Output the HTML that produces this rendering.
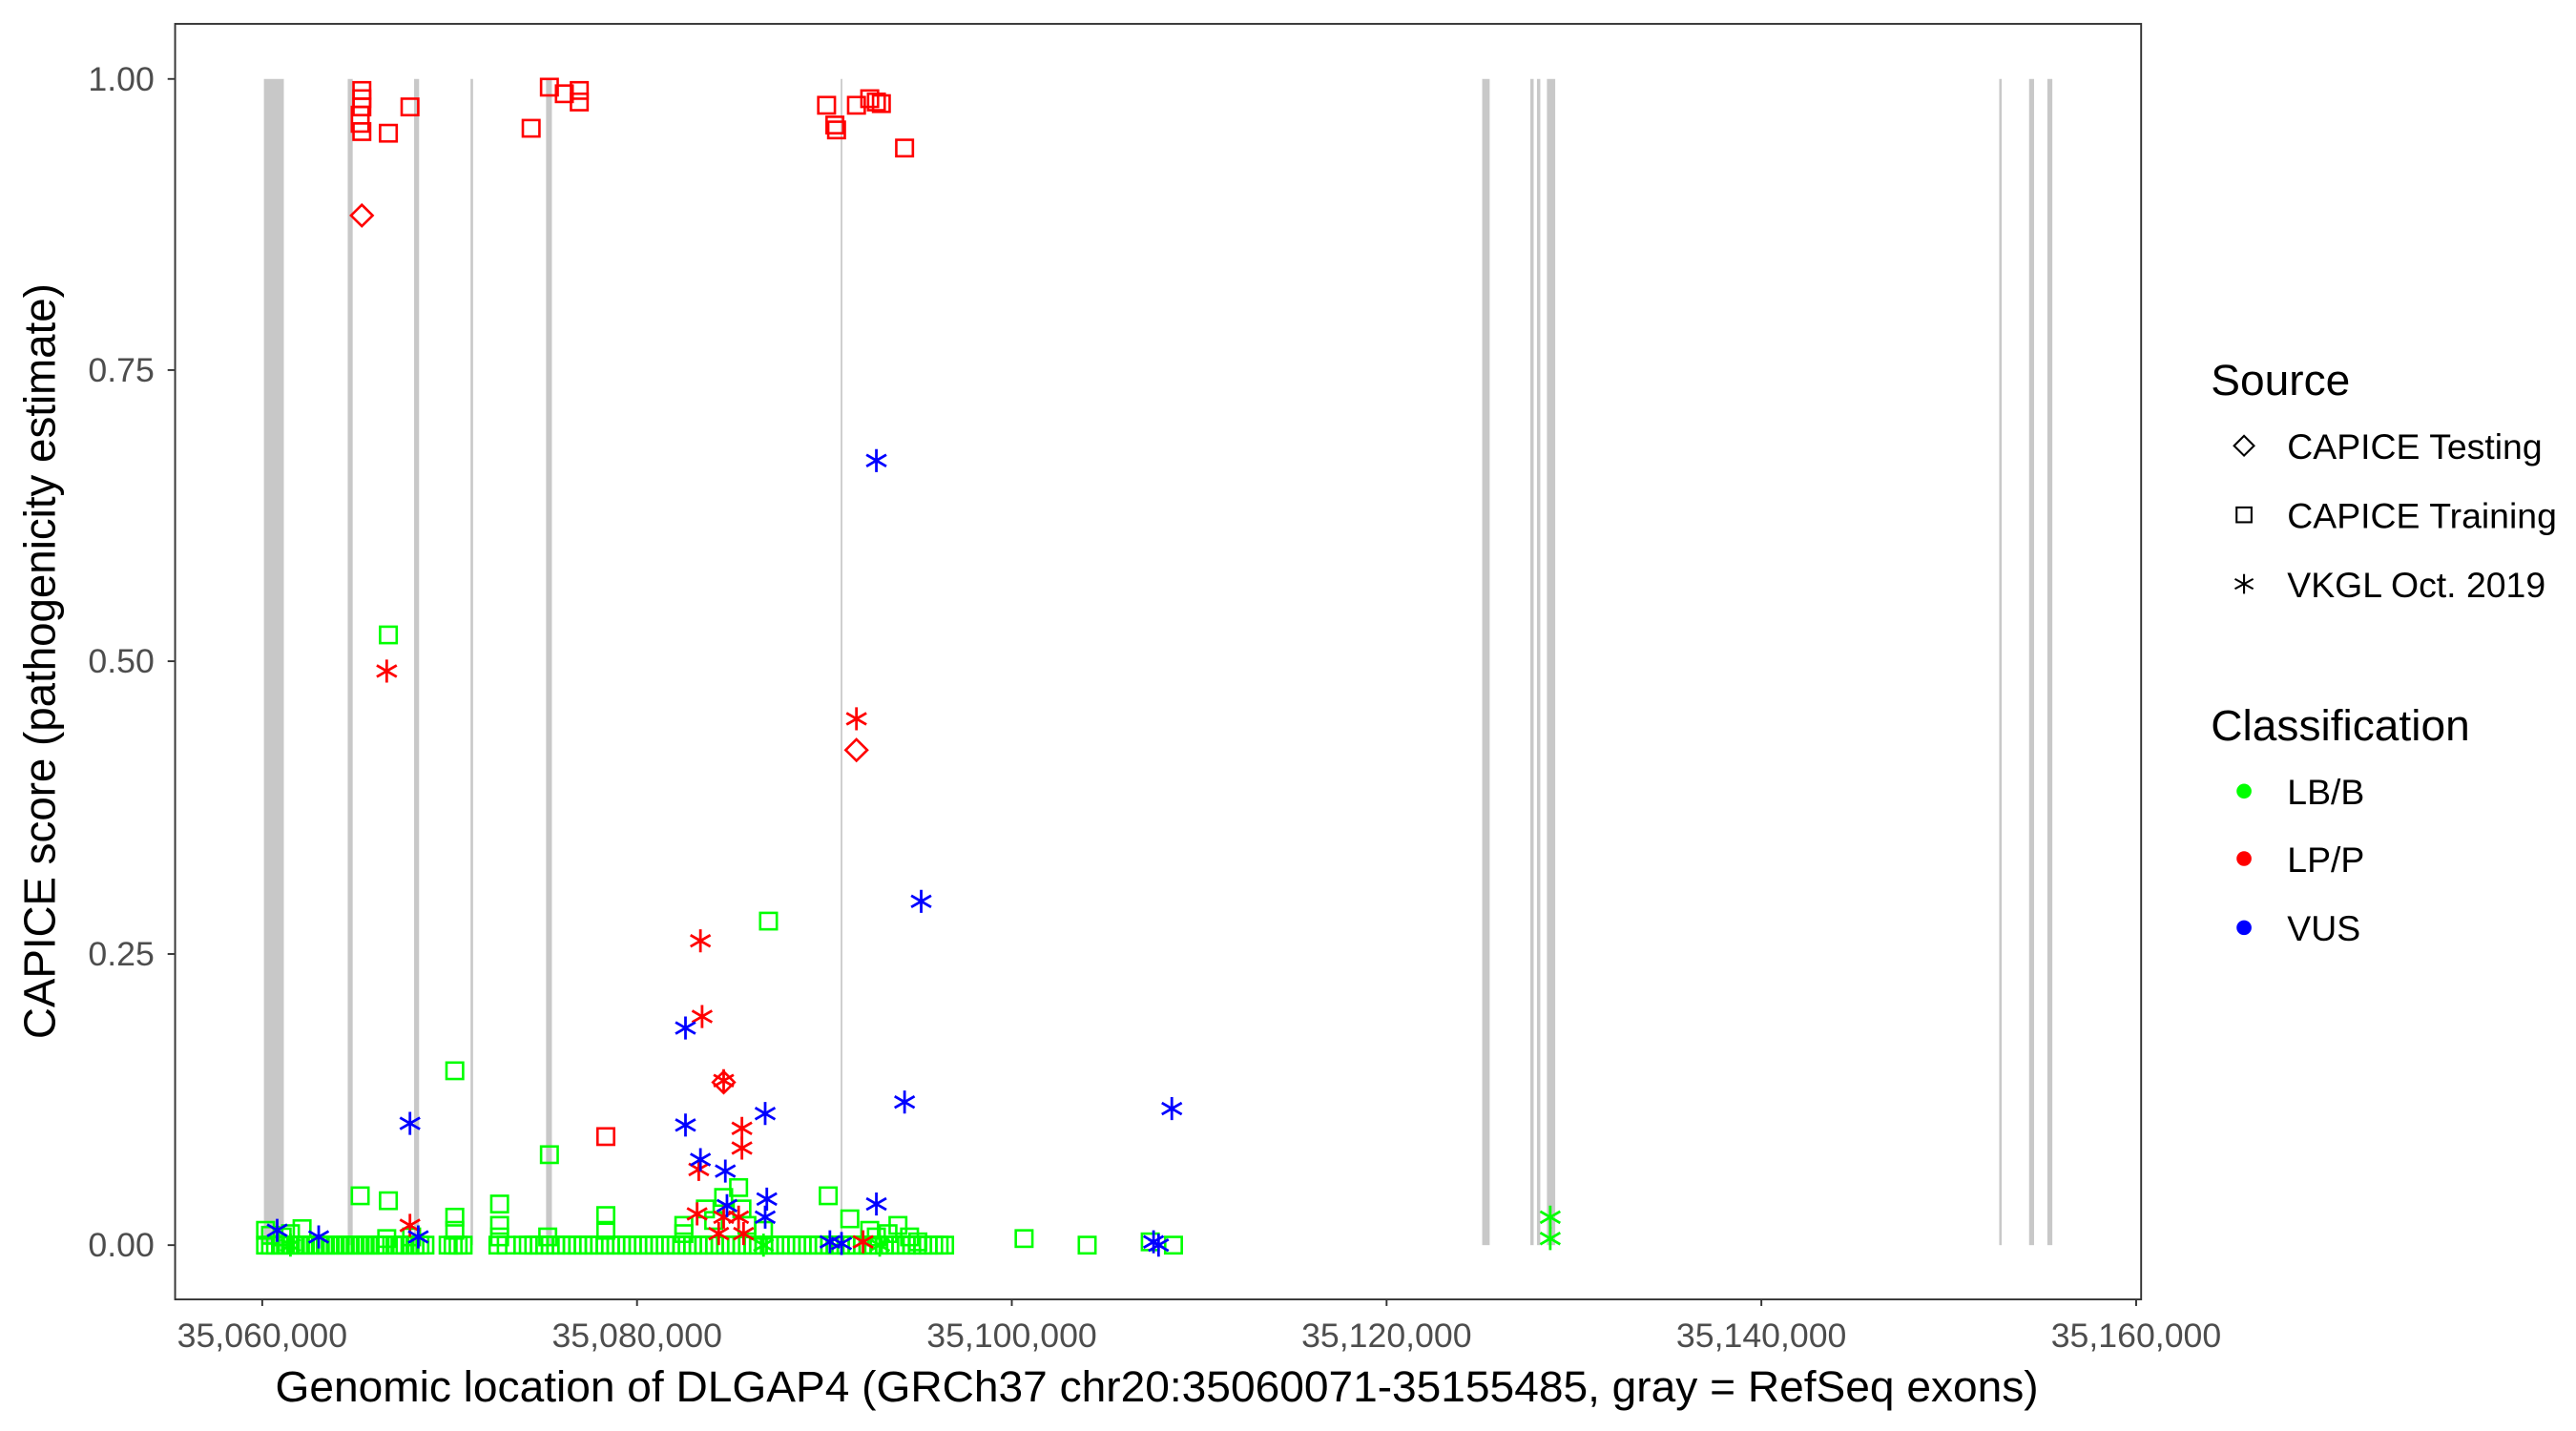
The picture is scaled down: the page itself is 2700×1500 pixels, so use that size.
<!DOCTYPE html>
<html><head><meta charset="utf-8"><style>html,body{margin:0;padding:0;background:#fff}svg{display:block}</style></head>
<body>
<svg id="s" width="2700" height="1500" viewBox="0 0 1552 870" preserveAspectRatio="none" xmlns="http://www.w3.org/2000/svg" font-family="Liberation Sans, sans-serif">
<rect x="0" y="0" width="1552" height="870" fill="#fff"/>
<g id="bands" fill="#c8c8c8"></g>
<g id="pts" fill="none" stroke-width="1.5"></g>
<rect x="105.5" y="14.5" width="1184.5" height="775.5" fill="none" stroke="#333" stroke-width="1.1"/>
<g stroke="#333" stroke-width="1.1">
<line x1="101" y1="48" x2="105" y2="48"/><line x1="101" y1="225" x2="105" y2="225"/><line x1="101" y1="402" x2="105" y2="402"/><line x1="101" y1="580" x2="105" y2="580"/><line x1="101" y1="757" x2="105" y2="757"/>
<line x1="158" y1="790" x2="158" y2="794"/><line x1="383.8" y1="790" x2="383.8" y2="794"/><line x1="609.6" y1="790" x2="609.6" y2="794"/><line x1="835.4" y1="790" x2="835.4" y2="794"/><line x1="1061.2" y1="790" x2="1061.2" y2="794"/><line x1="1287" y1="790" x2="1287" y2="794"/>
</g>
<g fill="#4d4d4d" font-size="20.5" text-anchor="end">
<text x="93" y="55">1.00</text><text x="93" y="232">0.75</text><text x="93" y="409">0.50</text><text x="93" y="587">0.25</text><text x="93" y="764">0.00</text>
</g>
<g fill="#4d4d4d" font-size="20.5" text-anchor="middle">
<text x="158" y="819">35,060,000</text><text x="383.8" y="819">35,080,000</text><text x="609.6" y="819">35,100,000</text><text x="835.4" y="819">35,120,000</text><text x="1061.2" y="819">35,140,000</text><text x="1287" y="819">35,160,000</text>
</g>
<text x="697" y="852" font-size="26.5" text-anchor="middle" fill="#000">Genomic location of DLGAP4 (GRCh37 chr20:35060071-35155485, gray = RefSeq exons)</text>
<text transform="translate(33,402) rotate(-90)" font-size="26.5" text-anchor="middle" fill="#000">CAPICE score (pathogenicity estimate)</text>
<text x="1332" y="240" font-size="26.5" fill="#000">Source</text>
<path d="M1352 265 L1358 271 L1352 277 L1346 271 Z" fill="none" stroke="#000" stroke-width="1.2"/>
<text x="1378" y="279" font-size="21.5">CAPICE Testing</text>
<rect x="1347.5" y="308.5" width="9" height="9" fill="none" stroke="#000" stroke-width="1.2"/>
<text x="1378" y="321" font-size="21.5">CAPICE Training</text>
<g stroke="#000" stroke-width="1.2"><line x1="1352" y1="349" x2="1352" y2="361"/><line x1="1346.5" y1="352" x2="1357.5" y2="358"/><line x1="1346.5" y1="358" x2="1357.5" y2="352"/></g>
<text x="1378" y="363" font-size="21.5">VKGL Oct. 2019</text>
<text x="1332" y="450" font-size="26.5" fill="#000">Classification</text>
<circle cx="1352" cy="481" r="4.5" fill="#00ff00"/><text x="1378" y="489" font-size="21.5">LB/B</text>
<circle cx="1352" cy="522" r="4.5" fill="#ff0000"/><text x="1378" y="530" font-size="21.5">LP/P</text>
<circle cx="1352" cy="564" r="4.5" fill="#0000ff"/><text x="1378" y="572" font-size="21.5">VUS</text>
</svg>
<script>
var NS="http://www.w3.org/2000/svg";
var bands=[[159,12],[209.5,3],[249.5,3],[283.5,1.5],[329,3.5],[506.5,1],[893,4.5],[922,2],[926,2],[932,5],[1204.5,1.5],[1222.5,3],[1233.5,3]];
var bg=document.getElementById("bands");
bands.forEach(function(b){var r=document.createElementNS(NS,"rect");r.setAttribute("x",b[0]);r.setAttribute("y",48);r.setAttribute("width",b[1]);r.setAttribute("height",709);bg.appendChild(r);});
var g=document.getElementById("pts");
var C={g:"#00ff00",r:"#ff0000",b:"#0000ff"};
function sq(x,y,c){var r=document.createElementNS(NS,"rect");r.setAttribute("x",x-5);r.setAttribute("y",y-5);r.setAttribute("width",10);r.setAttribute("height",10);r.setAttribute("stroke",C[c]);g.appendChild(r);}
function di(x,y,c){var p=document.createElementNS(NS,"path");p.setAttribute("d","M"+x+" "+(y-6.5)+"L"+(x+6.5)+" "+y+"L"+x+" "+(y+6.5)+"L"+(x-6.5)+" "+y+"Z");p.setAttribute("stroke",C[c]);g.appendChild(p);}
function st(x,y,c){var p=document.createElementNS(NS,"path");p.setAttribute("d","M"+x+" "+(y-7)+"V"+(y+7)+"M"+(x-6)+" "+(y-3.5)+"L"+(x+6)+" "+(y+3.5)+"M"+(x-6)+" "+(y+3.5)+"L"+(x+6)+" "+(y-3.5));p.setAttribute("stroke",C[c]);p.setAttribute("stroke-width","1.6");g.appendChild(p);}
var segs=[[160,232,3],[238,256,3],[270,280,3],[300,305,5],[315,572,3.3]];
segs.forEach(function(s){for(var x=s[0];x<=s[1];x+=s[2])sq(x,757,"g");});
[[160,748],[163,751],[170,752],[175,750],[182,747],[233,753],[248,752],[274,740],[274,748],[301,732],[301,745],[301,752],[330,752],[365,739],[365,748],[412,745],[412,750],[425,735],[430,742],[436,728],[445,722],[447,735],[450,745],[460,748],[499,727],[512,741],[524,748],[528,752],[535,750],[541,745],[548,752],[553,755],[617,753],[655,757],[693,755],[707,757],[217,727],[234,730]].forEach(function(p){sq(p[0],p[1],"g");});
[[234,386],[274,651],[463,560],[331,702]].forEach(function(p){sq(p[0],p[1],"g");});
[[934,740],[934,753],[175,757],[460,757],[530,757]].forEach(function(p){st(p[0],p[1],"g");});
[[218,55],[218,60],[218,65],[217,70],[217,75],[218,80],[234,81],[247,65],[320,78],[331,53],[340,57],[349,55],[349,62],[498,64],[503,76],[504,79],[516,64],[524,60],[528,62],[531,63],[545,90],[365,691]].forEach(function(p){sq(p[0],p[1],"r");});
[[218,131],[516,456],[436,658]].forEach(function(p){di(p[0],p[1],"r");});
[[233,408],[516,437],[422,572],[423,618],[436,657],[447,686],[447,698],[421,711],[247,745],[436,740],[420,738],[445,740],[433,750],[520,755],[448,750]].forEach(function(p){st(p[0],p[1],"r");});
[[528,280],[555,548],[545,670],[706,674],[247,683],[461,677],[413,625],[413,684],[422,705],[437,712],[438,733],[462,729],[461,740],[528,732],[167,748],[192,752],[252,752],[500,755],[507,756],[695,755],[698,757]].forEach(function(p){st(p[0],p[1],"b");});
</script>
</body></html>
